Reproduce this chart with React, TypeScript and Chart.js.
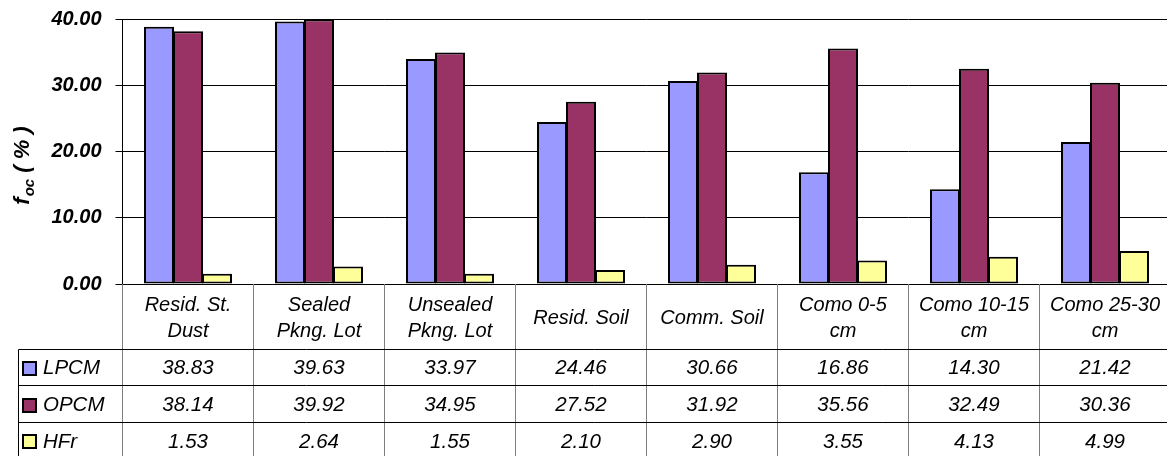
import React, { useEffect, useRef } from "react";
import { Chart, registerables } from "chart.js";

Chart.register(...registerables);

// Sample categories (two-line labels for the table header row)
const categories: string[][] = [
  ["Resid. St.", "Dust"],
  ["Sealed", "Pkng. Lot"],
  ["Unsealed", "Pkng. Lot"],
  ["Resid. Soil"],
  ["Comm. Soil"],
  ["Como 0-5", "cm"],
  ["Como 10-15", "cm"],
  ["Como 25-30", "cm"],
];

const seriesNames = ["LPCM", "OPCM", "HFr"];
const lpcm = [38.83, 39.63, 33.97, 24.46, 30.66, 16.86, 14.3, 21.42];
const opcm = [38.14, 39.92, 34.95, 27.52, 31.92, 35.56, 32.49, 30.36];
const hfr = [1.53, 2.64, 1.55, 2.1, 2.9, 3.55, 4.13, 4.99];
const seriesColors = ["#9999FF", "#993366", "#FFFF99"];

const yMin = 0;
const yMax = 40;
const yStep = 10;

const FONT = "'Liberation Sans', Arial, sans-serif";

// Draws the rotated axis title with subscript and the data table under the plot
const tablePlugin = {
  id: "dataTable",
  afterDraw(chart: any) {
    const { ctx, chartArea } = chart;
    const xs = chart.scales.x;
    const n = categories.length;
    const catW = (xs.right - xs.left) / n;
    const top = chartArea.bottom;
    const headH = 65;
    const rowH = 36.7;
    const tableLeft = 18;
    const canvasH = chart.height;
    const canvasW = chart.width;
    const al = (v: number) => Math.floor(v) + 0.5;

    ctx.save();
    ctx.lineWidth = 1;

    // vertical separators
    ctx.strokeStyle = "#7f7f7f";
    for (let i = 0; i <= n; i++) {
      const x = al(xs.left + i * catW);
      ctx.beginPath();
      ctx.moveTo(x, top);
      ctx.lineTo(x, canvasH);
      ctx.stroke();
    }
    // left border of legend column
    ctx.strokeStyle = "#000";
    ctx.beginPath();
    ctx.moveTo(al(tableLeft), al(top + headH));
    ctx.lineTo(al(tableLeft), canvasH);
    ctx.stroke();
    // horizontal row lines
    for (let r = 0; r < seriesNames.length; r++) {
      const y = al(top + headH + r * rowH);
      ctx.beginPath();
      ctx.moveTo(al(tableLeft), y);
      ctx.lineTo(canvasW, y);
      ctx.stroke();
    }

    // header labels
    ctx.fillStyle = "#000";
    ctx.font = `italic 20px ${FONT}`;
    ctx.textAlign = "center";
    ctx.textBaseline = "alphabetic";
    const headMid = top + headH / 2;
    categories.forEach((lines, i) => {
      const cx = xs.getPixelForValue(i);
      const lh = 26;
      const first = headMid - ((lines.length - 1) * lh) / 2;
      lines.forEach((t, k) => {
        ctx.fillText(t, cx, first + k * lh + 7);
      });
    });

    // data rows
    const series = [lpcm, opcm, hfr];
    series.forEach((vals, r) => {
      const rowMid = top + headH + r * rowH + rowH / 2;
      ctx.textAlign = "center";
      ctx.font = `italic 20.5px ${FONT}`;
      vals.forEach((v, i) => {
        ctx.fillText(v.toFixed(2), xs.getPixelForValue(i), rowMid + 7);
      });
      // legend key
      const ks = 13;
      const kx = 23;
      const ky = Math.round(rowMid - ks / 2 + 1);
      ctx.fillStyle = seriesColors[r];
      ctx.fillRect(kx, ky, ks, ks);
      ctx.strokeStyle = "#000";
      ctx.lineWidth = 2;
      ctx.strokeRect(kx, ky, ks, ks);
      ctx.lineWidth = 1;
      ctx.fillStyle = "#000";
      ctx.textAlign = "left";
      ctx.fillText(seriesNames[r], 43, rowMid + 7);
    });

    // y-axis title: f_oc ( % )
    const mainFont = `italic bold 22px ${FONT}`;
    const subFont = `italic bold 15px ${FONT}`;
    ctx.font = mainFont;
    const wF = ctx.measureText("f").width;
    const wRest = ctx.measureText(" ( % )").width;
    ctx.font = subFont;
    const wSub = ctx.measureText("oc").width;
    const total = wF + wSub + wRest + 1;
    const cy = (chartArea.top + chartArea.bottom) / 2 + 14;
    ctx.translate(29, cy);
    ctx.rotate(-Math.PI / 2);
    ctx.textAlign = "left";
    let x0 = -total / 2;
    ctx.font = mainFont;
    ctx.fillText("f", x0, 0);
    x0 += wF + 1;
    ctx.font = subFont;
    ctx.fillText("oc", x0, 5);
    x0 += wSub;
    ctx.font = mainFont;
    ctx.fillText(" ( % )", x0, 0);
    ctx.restore();
  },
};

export default function App() {
  const canvasRef = useRef<HTMLCanvasElement | null>(null);

  useEffect(() => {
    const canvas = canvasRef.current;
    if (!canvas) return;
    const data = [lpcm, opcm, hfr];
    const chart = new Chart(canvas, {
      type: "bar",
      data: {
        labels: categories.map((c) => c.join(" ")),
        datasets: seriesNames.map((name, i) => ({
          label: name,
          data: data[i],
          backgroundColor: seriesColors[i],
          borderColor: "#000",
          borderWidth: 2,
          borderSkipped: false,
          inflateAmount: 0,
          // neighbouring bars overlap by one pixel so shared edges read as a single outline
          barPercentage: 30 / 29,
          categoryPercentage: 87 / 131,
        })),
      },
      options: {
        responsive: false,
        animation: false,
        devicePixelRatio: 1,
        layout: { padding: { top: 19, bottom: 172, left: 0, right: 0.5 } },
        plugins: {
          legend: { display: false },
          tooltip: { enabled: false },
          title: { display: false },
        },
        scales: {
          x: { display: false, offset: true },
          y: {
            min: yMin,
            max: yMax,
            afterFit: (scale: any) => {
              scale.width = 122.5;
              scale.paddingTop = 0;
              scale.paddingBottom = 0;
            },
            ticks: {
              stepSize: yStep,
              padding: 14,
              color: "#000",
              font: { family: FONT, size: 20, style: "italic", weight: "bold" },
              callback: (v: any) => Number(v).toFixed(2),
            },
            grid: {
              color: "#000",
              lineWidth: 1,
              tickLength: 7,
              drawTicks: true,
            },
            border: { display: true, color: "#000", width: 1 },
          },
        },
      },
      plugins: [tablePlugin],
    });
    return () => chart.destroy();
  }, []);

  return (
    <div
      style={{
        position: "fixed",
        left: 0,
        top: 0,
        width: 1167,
        height: 456,
        overflow: "hidden",
        background: "#fff",
      }}
    >
      <canvas ref={canvasRef} width={1171} height={456} style={{ display: "block" }} />
    </div>
  );
}
